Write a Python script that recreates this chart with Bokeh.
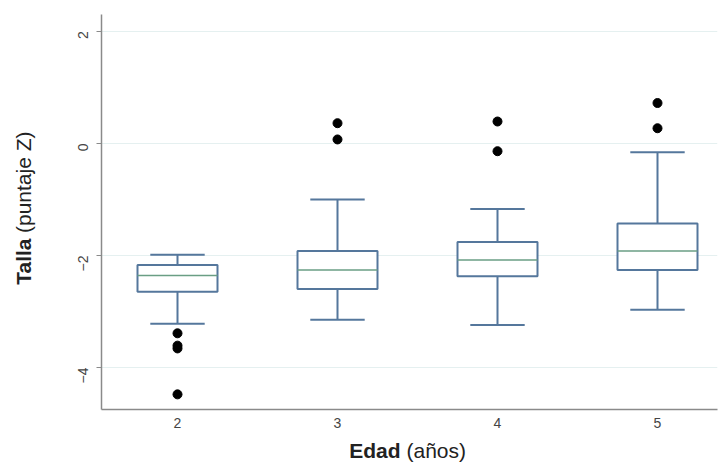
import math
from bokeh.plotting import figure
from bokeh.layouts import row, column
from bokeh.models import ColumnDataSource, FixedTicker, Label, Range1d
from bokeh.embed import file_html
from bokeh.resources import INLINE

# ---- data ----
ages = [2, 3, 4, 5]
q1 = [-2.65, -2.60, -2.37, -2.26]
median = [-2.36, -2.26, -2.08, -1.92]
q3 = [-2.17, -1.92, -1.76, -1.43]
whisker_low = [-3.22, -3.15, -3.24, -2.97]
whisker_high = [-1.99, -1.00, -1.17, -0.16]
outlier_age = [2, 2, 2, 2, 3, 3, 4, 4, 5, 5]
outlier_val = [-3.39, -3.61, -3.66, -4.48, 0.36, 0.07, 0.39, -0.14, 0.72, 0.27]
x_ticks = [2, 3, 4, 5]
y_ticks = [-4, -2, 0, 2]
x_title_bold, x_title_rest = "Edad", "(años)"
y_title_bold, y_title_rest = "Talla", "(puntaje Z)"

BOX_W = 0.50
CAP_W = 0.34
BLUE = "#55779c"
GREEN = "#6a9e84"
FONT = "Liberation Sans"
TITLE_SIZE = "21px"
TITLE_COLOR = "#222222"
GAP = 6            # width of the space between the bold and regular parts

LEFT_W = 50        # side strip holding the y-axis title
MAIN_W, MAIN_H = 668, 432
TOTAL_W = LEFT_W + MAIN_W
BOTTOM_H = 30      # strip holding the x-axis title

src = ColumnDataSource(dict(
    x=ages, q1=q1, med=median, q3=q3, lo=whisker_low, hi=whisker_high,
    bl=[a - BOX_W / 2 for a in ages], br=[a + BOX_W / 2 for a in ages],
    cl=[a - CAP_W / 2 for a in ages], cr=[a + CAP_W / 2 for a in ages],
))
out_src = ColumnDataSource(dict(x=outlier_age, y=outlier_val))

p = figure(width=MAIN_W, height=MAIN_H, output_backend="svg", toolbar_location=None,
           title=None,
           x_range=Range1d(1.525, 5.375), y_range=Range1d(-4.75, 2.30),
           min_border_left=51, min_border_right=1, min_border_top=14,
           min_border_bottom=23)
p.outline_line_color = None

# grid
p.xgrid.grid_line_color = None
p.ygrid.grid_line_color = "#e5f0f0"
p.ygrid.grid_line_width = 1
p.ygrid.ticker = FixedTicker(ticks=y_ticks)

# axes
for ax in (p.xaxis[0], p.yaxis[0]):
    ax.axis_line_color = "#8a8a8a"
    ax.axis_line_width = 1.5
    ax.major_tick_line_color = "#8a8a8a"
    ax.minor_tick_line_color = None
    ax.major_label_text_font = FONT
    ax.major_label_text_font_size = "14px"
    ax.major_label_text_color = "#444444"
    ax.axis_label = None
p.xaxis.ticker = FixedTicker(ticks=x_ticks)
p.xaxis.major_tick_out = 0
p.xaxis.major_tick_in = 0
p.xaxis.major_label_standoff = 8
p.yaxis.ticker = FixedTicker(ticks=y_ticks)
p.yaxis.major_tick_out = 5
p.yaxis.major_tick_in = 0
p.yaxis.major_label_standoff = 13
p.yaxis.major_label_orientation = math.pi / 2

# whiskers
p.segment(x0="x", y0="q3", x1="x", y1="hi", source=src, line_color=BLUE, line_width=2)
p.segment(x0="x", y0="q1", x1="x", y1="lo", source=src, line_color=BLUE, line_width=2)
p.segment(x0="cl", y0="hi", x1="cr", y1="hi", source=src, line_color=BLUE, line_width=2)
p.segment(x0="cl", y0="lo", x1="cr", y1="lo", source=src, line_color=BLUE, line_width=2)
# boxes
p.quad(left="bl", right="br", bottom="q1", top="q3", source=src,
       fill_color="white", line_color=BLUE, line_width=2)
# medians
p.segment(x0="bl", y0="med", x1="br", y1="med", source=src, line_color=GREEN, line_width=1.5)
# outliers
p.scatter(x="x", y="y", source=out_src, size=9, fill_color="black", line_color="black")


def strip(w, h):
    f = figure(width=w, height=h, output_backend="svg", toolbar_location=None,
               title=None, x_range=Range1d(0, w), y_range=Range1d(0, h),
               x_axis_type=None, y_axis_type=None, min_border=0)
    f.outline_line_color = None
    f.grid.visible = False
    return f


# y-axis title strip (pixel coordinates, y measured upward)
left = strip(LEFT_W, MAIN_H)
ya = MAIN_H - 245
left.add_layout(Label(x=23, y=ya, text=y_title_bold, text_font=FONT,
                      text_font_size=TITLE_SIZE, text_font_style="bold",
                      text_color=TITLE_COLOR, text_align="right",
                      text_baseline="middle", angle=math.pi / 2))
left.add_layout(Label(x=23, y=ya + GAP, text=y_title_rest, text_font=FONT,
                      text_font_size=TITLE_SIZE, text_color=TITLE_COLOR,
                      text_align="left", text_baseline="middle", angle=math.pi / 2))

# x-axis title strip (full width, page x coordinates)
bottom = strip(TOTAL_W, BOTTOM_H)
xa = 400
ybase = 12
bottom.add_layout(Label(x=xa, y=ybase, text=x_title_bold, text_font=FONT,
                        text_font_size=TITLE_SIZE, text_font_style="bold",
                        text_color=TITLE_COLOR, text_align="right",
                        text_baseline="alphabetic"))
bottom.add_layout(Label(x=xa + GAP, y=ybase, text=x_title_rest, text_font=FONT,
                        text_font_size=TITLE_SIZE, text_color=TITLE_COLOR,
                        text_align="left", text_baseline="alphabetic"))

layout = column(row(left, p, spacing=0), bottom, spacing=0)

open("out.html", "w").write(file_html(layout, INLINE))
